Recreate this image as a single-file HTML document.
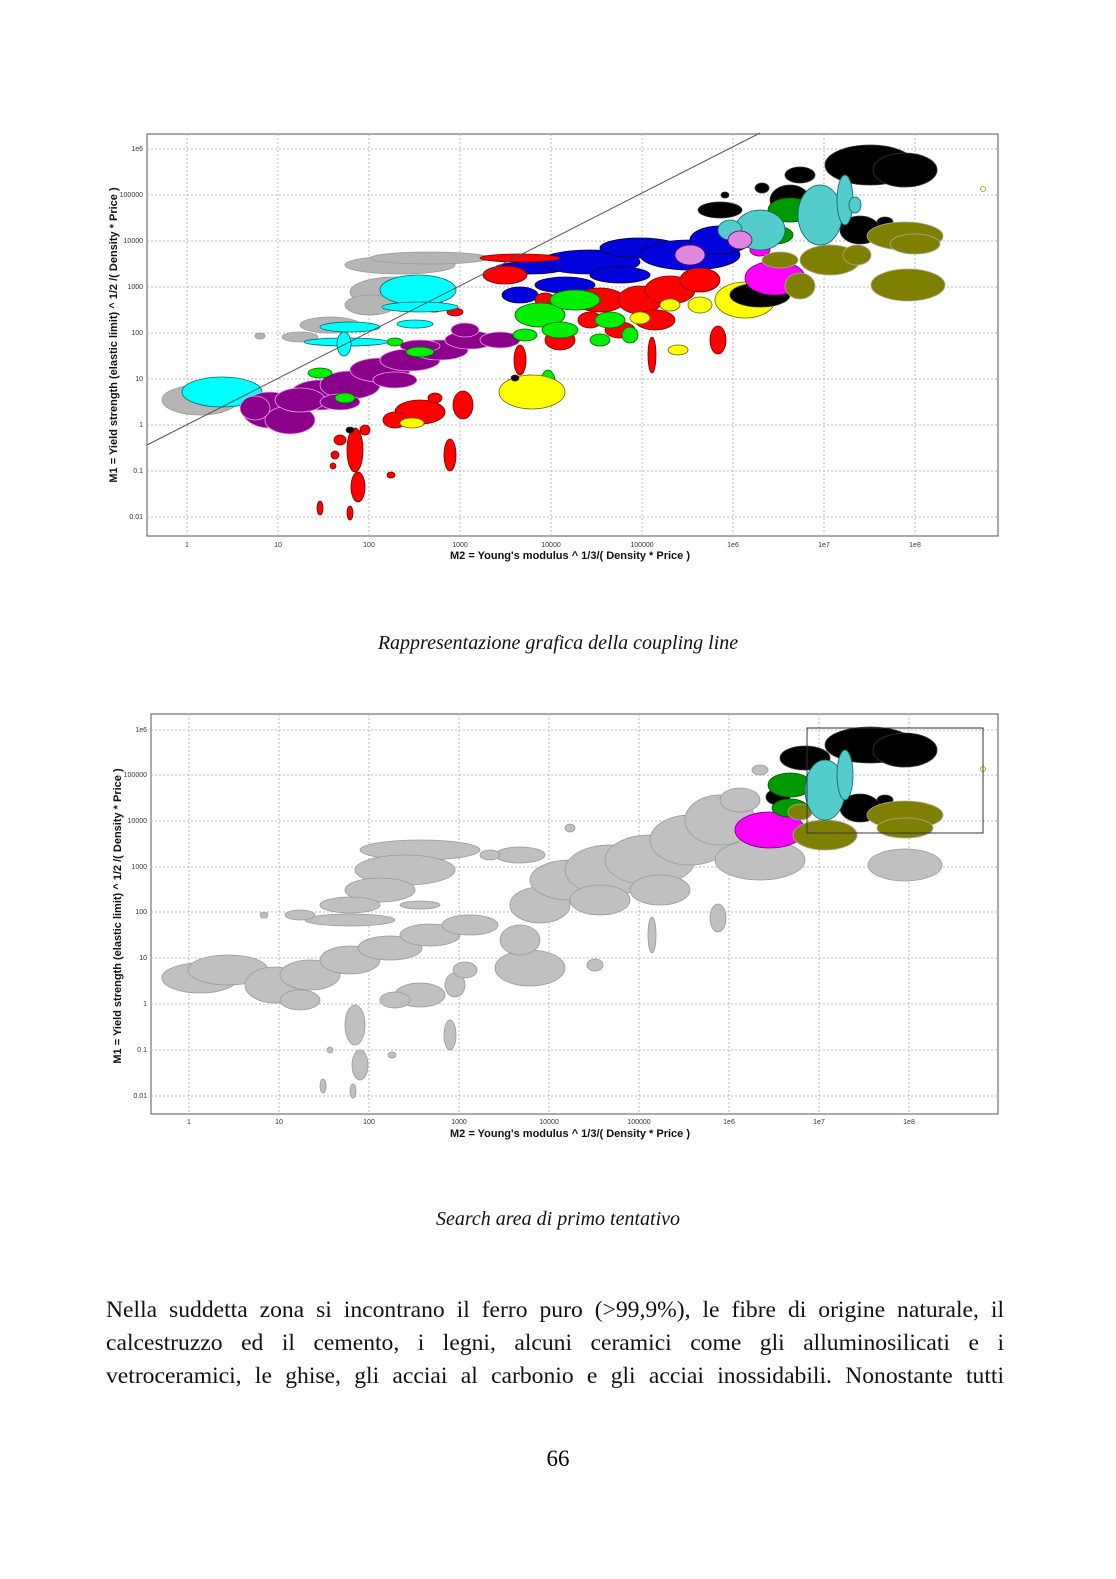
<!DOCTYPE html>
<html><head><meta charset="utf-8"><style>
body{margin:0;background:#fff;}
.page{position:relative;width:1116px;height:1579px;overflow:hidden;background:#fff;font-family:"Liberation Serif",serif;}
.cap{position:absolute;left:0;width:1116px;text-align:center;font-style:italic;font-size:20px;color:#111;}
.p{position:absolute;left:106px;width:898px;font-size:23.6px;line-height:33px;text-align:justify;text-align-last:justify;color:#111;white-space:nowrap;}
</style></head><body><div class="page">
<svg width="1116" height="1579" style="position:absolute;left:0;top:0" font-family="Liberation Sans, sans-serif">
<defs>
<clipPath id="c1"><rect x="147" y="134" width="851" height="402"/></clipPath>
<clipPath id="c2"><rect x="151" y="714" width="847" height="400"/></clipPath>
</defs>
<!-- CHART 1 -->
<rect x="147" y="134" width="851" height="402" fill="#fff" stroke="#555"/>
<g stroke="#bbb" stroke-dasharray="2,2" stroke-width="1">
<line x1="147" x2="998" y1="149" y2="149"/><line x1="147" x2="998" y1="195" y2="195"/><line x1="147" x2="998" y1="241" y2="241"/><line x1="147" x2="998" y1="287" y2="287"/><line x1="147" x2="998" y1="333" y2="333"/><line x1="147" x2="998" y1="379" y2="379"/><line x1="147" x2="998" y1="425" y2="425"/><line x1="147" x2="998" y1="471" y2="471"/><line x1="147" x2="998" y1="517" y2="517"/>
<line y1="134" y2="536" x1="187" x2="187"/><line y1="134" y2="536" x1="278" x2="278"/><line y1="134" y2="536" x1="369" x2="369"/><line y1="134" y2="536" x1="460" x2="460"/><line y1="134" y2="536" x1="551" x2="551"/><line y1="134" y2="536" x1="642" x2="642"/><line y1="134" y2="536" x1="733" x2="733"/><line y1="134" y2="536" x1="824" x2="824"/><line y1="134" y2="536" x1="915" x2="915"/>
</g>
<g font-size="7" fill="#333" text-anchor="end">
<text x="143" y="151">1e6</text><text x="143" y="197">100000</text><text x="143" y="243">10000</text><text x="143" y="289">1000</text><text x="143" y="335">100</text><text x="143" y="381">10</text><text x="143" y="427">1</text><text x="143" y="473">0.1</text><text x="143" y="519">0.01</text>
</g>
<g font-size="7" fill="#333" text-anchor="middle">
<text x="187" y="547">1</text><text x="278" y="547">10</text><text x="369" y="547">100</text><text x="460" y="547">1000</text><text x="551" y="547">10000</text><text x="642" y="547">100000</text><text x="733" y="547">1e6</text><text x="824" y="547">1e7</text><text x="915" y="547">1e8</text>
</g>
<text x="570" y="559" font-size="11" font-weight="bold" text-anchor="middle" fill="#111">M2 = Young's modulus ^ 1/3/( Density * Price )</text>
<text transform="translate(117,335) rotate(-90)" font-size="11" font-weight="bold" text-anchor="middle" fill="#111">M1 = Yield strength (elastic limit) ^ 1/2 /( Density * Price )</text>
<g clip-path="url(#c1)" stroke-width="0.8">
<g fill="#b5b5b5" stroke="#999">
<ellipse cx="200" cy="400" rx="38" ry="15"/><ellipse cx="400" cy="265" rx="55" ry="9"/><ellipse cx="395" cy="292" rx="45" ry="15"/><ellipse cx="370" cy="305" rx="25" ry="10"/><ellipse cx="330" cy="325" rx="30" ry="8"/><ellipse cx="300" cy="337" rx="18" ry="5"/><ellipse cx="260" cy="336" rx="5" ry="3"/><ellipse cx="430" cy="258" rx="60" ry="6"/>
</g>
<g fill="#0000dd" stroke="#003">
<ellipse cx="530" cy="268" rx="35" ry="6"/><ellipse cx="590" cy="262" rx="50" ry="12"/><ellipse cx="640" cy="248" rx="40" ry="10"/><ellipse cx="690" cy="255" rx="50" ry="15"/><ellipse cx="720" cy="240" rx="30" ry="14"/><ellipse cx="565" cy="285" rx="30" ry="8"/><ellipse cx="620" cy="275" rx="30" ry="8"/><ellipse cx="520" cy="295" rx="18" ry="8"/>
</g>
<g fill="#ff0000" stroke="#700">
<ellipse cx="520" cy="258" rx="40" ry="4"/><ellipse cx="505" cy="275" rx="22" ry="9"/><ellipse cx="600" cy="300" rx="25" ry="12"/><ellipse cx="640" cy="300" rx="22" ry="14"/><ellipse cx="670" cy="290" rx="25" ry="14"/><ellipse cx="700" cy="280" rx="20" ry="12"/><ellipse cx="655" cy="320" rx="20" ry="10"/><ellipse cx="620" cy="330" rx="15" ry="8"/><ellipse cx="560" cy="340" rx="15" ry="10"/><ellipse cx="530" cy="385" rx="12" ry="10"/><ellipse cx="463" cy="405" rx="10" ry="14"/><ellipse cx="420" cy="412" rx="25" ry="12"/><ellipse cx="395" cy="420" rx="12" ry="8"/><ellipse cx="450" cy="455" rx="6" ry="16"/><ellipse cx="358" cy="487" rx="7" ry="15"/><ellipse cx="355" cy="450" rx="8" ry="22"/><ellipse cx="320" cy="508" rx="3" ry="7"/><ellipse cx="350" cy="513" rx="3" ry="7"/><ellipse cx="718" cy="340" rx="8" ry="14"/><ellipse cx="652" cy="355" rx="4" ry="18"/><ellipse cx="520" cy="360" rx="6" ry="15"/><ellipse cx="435" cy="398" rx="7" ry="5"/><ellipse cx="333" cy="466" rx="3" ry="3"/><ellipse cx="391" cy="475" rx="4" ry="3"/><ellipse cx="434" cy="306" rx="10" ry="6"/><ellipse cx="455" cy="312" rx="8" ry="4"/><ellipse cx="340" cy="440" rx="6" ry="5"/><ellipse cx="365" cy="430" rx="5" ry="5"/><ellipse cx="335" cy="455" rx="4" ry="4"/><ellipse cx="545" cy="300" rx="10" ry="7"/><ellipse cx="590" cy="320" rx="12" ry="8"/>
</g>
<g fill="#00ffff" stroke="#066">
<ellipse cx="222" cy="392" rx="40" ry="15"/><ellipse cx="418" cy="290" rx="38" ry="15"/><ellipse cx="350" cy="327" rx="30" ry="5"/><ellipse cx="346" cy="342" rx="42" ry="4"/><ellipse cx="344" cy="344" rx="7" ry="12"/><ellipse cx="415" cy="324" rx="18" ry="4"/><ellipse cx="420" cy="307" rx="38" ry="5"/>
</g>
<g fill="#8b008b" stroke="#e8a0e8">
<ellipse cx="270" cy="410" rx="28" ry="18"/><ellipse cx="290" cy="420" rx="25" ry="14"/><ellipse cx="320" cy="395" rx="30" ry="15"/><ellipse cx="350" cy="385" rx="30" ry="14"/><ellipse cx="380" cy="370" rx="30" ry="12"/><ellipse cx="410" cy="360" rx="30" ry="11"/><ellipse cx="440" cy="350" rx="28" ry="10"/><ellipse cx="470" cy="340" rx="25" ry="9"/><ellipse cx="465" cy="330" rx="14" ry="7"/><ellipse cx="500" cy="340" rx="20" ry="8"/><ellipse cx="300" cy="400" rx="25" ry="12"/><ellipse cx="340" cy="402" rx="20" ry="8"/><ellipse cx="395" cy="380" rx="22" ry="8"/><ellipse cx="420" cy="346" rx="20" ry="6"/><ellipse cx="255" cy="408" rx="15" ry="12"/>
</g>
<g fill="#00ee00" stroke="#060">
<ellipse cx="345" cy="398" rx="10" ry="5"/><ellipse cx="320" cy="373" rx="12" ry="5"/><ellipse cx="395" cy="342" rx="8" ry="4"/><ellipse cx="420" cy="352" rx="14" ry="5"/><ellipse cx="540" cy="315" rx="25" ry="12"/><ellipse cx="575" cy="300" rx="25" ry="10"/><ellipse cx="610" cy="320" rx="15" ry="8"/><ellipse cx="548" cy="382" rx="7" ry="12"/><ellipse cx="560" cy="330" rx="18" ry="8"/><ellipse cx="525" cy="335" rx="12" ry="6"/><ellipse cx="600" cy="340" rx="10" ry="6"/><ellipse cx="630" cy="335" rx="8" ry="8"/>
</g>
<g fill="#ffff00" stroke="#660">
<ellipse cx="532" cy="392" rx="33" ry="17"/><ellipse cx="412" cy="423" rx="12" ry="5"/><ellipse cx="678" cy="350" rx="10" ry="5"/><ellipse cx="745" cy="300" rx="30" ry="18"/><ellipse cx="700" cy="305" rx="12" ry="8"/><ellipse cx="640" cy="318" rx="10" ry="6"/><ellipse cx="670" cy="305" rx="10" ry="6"/>
</g>
<g fill="#000" stroke="#333">
<ellipse cx="760" cy="295" rx="30" ry="12"/><ellipse cx="870" cy="165" rx="45" ry="20"/><ellipse cx="905" cy="170" rx="32" ry="17"/><ellipse cx="790" cy="200" rx="20" ry="15"/><ellipse cx="860" cy="230" rx="20" ry="14"/><ellipse cx="720" cy="210" rx="22" ry="8"/><ellipse cx="762" cy="188" rx="7" ry="5"/><ellipse cx="725" cy="195" rx="4" ry="3"/><ellipse cx="885" cy="222" rx="8" ry="5"/><ellipse cx="350" cy="430" rx="4" ry="3"/><ellipse cx="515" cy="378" rx="4" ry="3"/><ellipse cx="800" cy="175" rx="15" ry="8"/>
</g>
<g fill="#ff00ff" stroke="#606"><ellipse cx="775" cy="278" rx="30" ry="17"/><ellipse cx="760" cy="250" rx="10" ry="6"/></g>
<g fill="#808000" stroke="#aa9">
<ellipse cx="908" cy="285" rx="37" ry="16"/><ellipse cx="905" cy="236" rx="38" ry="14"/><ellipse cx="915" cy="244" rx="25" ry="10"/><ellipse cx="830" cy="260" rx="30" ry="15"/><ellipse cx="800" cy="286" rx="15" ry="13"/><ellipse cx="857" cy="255" rx="14" ry="10"/><ellipse cx="780" cy="260" rx="18" ry="8"/>
</g>
<g fill="#009900" stroke="#050"><ellipse cx="790" cy="210" rx="22" ry="12"/><ellipse cx="775" cy="235" rx="18" ry="9"/></g>
<g fill="#5cc" stroke="#066">
<ellipse cx="820" cy="215" rx="22" ry="30"/><ellipse cx="845" cy="200" rx="8" ry="25"/><ellipse cx="760" cy="230" rx="25" ry="20"/><ellipse cx="730" cy="230" rx="12" ry="10"/><ellipse cx="855" cy="205" rx="6" ry="8"/>
</g>
<g fill="#dd88dd" stroke="#606"><ellipse cx="690" cy="255" rx="15" ry="10"/><ellipse cx="740" cy="240" rx="12" ry="9"/></g>
<ellipse cx="983" cy="189" rx="2.5" ry="2.5" fill="none" stroke="#8a0"/>
</g>
<line x1="147" y1="445" x2="760" y2="133" stroke="#555" stroke-width="1"/>

<!-- CHART 2 -->
<rect x="151" y="714" width="847" height="400" fill="#fff" stroke="#555"/>
<g stroke="#bbb" stroke-dasharray="2,2" stroke-width="1">
<line x1="151" x2="998" y1="730" y2="730"/><line x1="151" x2="998" y1="775" y2="775"/><line x1="151" x2="998" y1="821" y2="821"/><line x1="151" x2="998" y1="867" y2="867"/><line x1="151" x2="998" y1="912" y2="912"/><line x1="151" x2="998" y1="958" y2="958"/><line x1="151" x2="998" y1="1004" y2="1004"/><line x1="151" x2="998" y1="1050" y2="1050"/><line x1="151" x2="998" y1="1096" y2="1096"/>
<line y1="714" y2="1114" x1="189" x2="189"/><line y1="714" y2="1114" x1="279" x2="279"/><line y1="714" y2="1114" x1="369" x2="369"/><line y1="714" y2="1114" x1="459" x2="459"/><line y1="714" y2="1114" x1="549" x2="549"/><line y1="714" y2="1114" x1="639" x2="639"/><line y1="714" y2="1114" x1="729" x2="729"/><line y1="714" y2="1114" x1="819" x2="819"/><line y1="714" y2="1114" x1="909" x2="909"/>
</g>
<g font-size="7" fill="#333" text-anchor="end">
<text x="147" y="732">1e6</text><text x="147" y="777">100000</text><text x="147" y="823">10000</text><text x="147" y="869">1000</text><text x="147" y="914">100</text><text x="147" y="960">10</text><text x="147" y="1006">1</text><text x="147" y="1052">0.1</text><text x="147" y="1098">0.01</text>
</g>
<g font-size="7" fill="#333" text-anchor="middle">
<text x="189" y="1124">1</text><text x="279" y="1124">10</text><text x="369" y="1124">100</text><text x="459" y="1124">1000</text><text x="549" y="1124">10000</text><text x="639" y="1124">100000</text><text x="729" y="1124">1e6</text><text x="819" y="1124">1e7</text><text x="909" y="1124">1e8</text>
</g>
<text x="570" y="1137" font-size="11" font-weight="bold" text-anchor="middle" fill="#111">M2 = Young's modulus ^ 1/3/( Density * Price )</text>
<text transform="translate(121,916) rotate(-90)" font-size="11" font-weight="bold" text-anchor="middle" fill="#111">M1 = Yield strength (elastic limit) ^ 1/2 /( Density * Price )</text>
<g clip-path="url(#c2)" fill="#c0c0c0" stroke="#999" stroke-width="0.8">
<ellipse cx="200" cy="978" rx="38" ry="15"/><ellipse cx="228" cy="970" rx="40" ry="15"/><ellipse cx="275" cy="985" rx="30" ry="18"/><ellipse cx="310" cy="975" rx="30" ry="15"/><ellipse cx="350" cy="960" rx="30" ry="14"/><ellipse cx="390" cy="948" rx="32" ry="12"/><ellipse cx="430" cy="935" rx="30" ry="11"/><ellipse cx="470" cy="925" rx="28" ry="10"/><ellipse cx="300" cy="1000" rx="20" ry="10"/>
<ellipse cx="420" cy="850" rx="60" ry="10"/><ellipse cx="405" cy="870" rx="50" ry="15"/><ellipse cx="380" cy="890" rx="35" ry="12"/><ellipse cx="350" cy="905" rx="30" ry="8"/><ellipse cx="350" cy="920" rx="45" ry="6"/><ellipse cx="300" cy="915" rx="15" ry="5"/><ellipse cx="264" cy="915" rx="4" ry="3"/><ellipse cx="420" cy="905" rx="20" ry="4"/>
<ellipse cx="530" cy="968" rx="35" ry="18"/><ellipse cx="540" cy="905" rx="30" ry="18"/><ellipse cx="570" cy="880" rx="40" ry="20"/><ellipse cx="610" cy="870" rx="45" ry="25"/><ellipse cx="650" cy="860" rx="45" ry="25"/><ellipse cx="690" cy="840" rx="40" ry="25"/><ellipse cx="720" cy="820" rx="35" ry="25"/><ellipse cx="760" cy="860" rx="45" ry="20"/><ellipse cx="740" cy="800" rx="20" ry="12"/><ellipse cx="520" cy="855" rx="25" ry="8"/><ellipse cx="520" cy="940" rx="20" ry="15"/><ellipse cx="600" cy="900" rx="30" ry="15"/><ellipse cx="660" cy="890" rx="30" ry="15"/>
<ellipse cx="420" cy="995" rx="25" ry="12"/><ellipse cx="395" cy="1000" rx="15" ry="8"/><ellipse cx="455" cy="985" rx="10" ry="12"/><ellipse cx="450" cy="1035" rx="6" ry="15"/><ellipse cx="360" cy="1065" rx="8" ry="15"/><ellipse cx="355" cy="1025" rx="10" ry="20"/><ellipse cx="323" cy="1086" rx="3" ry="7"/><ellipse cx="353" cy="1091" rx="3" ry="7"/><ellipse cx="718" cy="918" rx="8" ry="14"/><ellipse cx="652" cy="935" rx="4" ry="18"/><ellipse cx="595" cy="965" rx="8" ry="6"/><ellipse cx="905" cy="865" rx="37" ry="16"/><ellipse cx="330" cy="1050" rx="3" ry="3"/><ellipse cx="392" cy="1055" rx="4" ry="3"/><ellipse cx="465" cy="970" rx="12" ry="8"/><ellipse cx="490" cy="855" rx="10" ry="5"/><ellipse cx="570" cy="828" rx="5" ry="4"/><ellipse cx="760" cy="770" rx="8" ry="5"/>
</g>
<g clip-path="url(#c2)" stroke-width="0.8">
<g fill="#ff00ff" stroke="#606"><ellipse cx="770" cy="830" rx="35" ry="18"/></g>
<g fill="#000" stroke="#333"><ellipse cx="870" cy="745" rx="45" ry="18"/><ellipse cx="905" cy="750" rx="32" ry="17"/><ellipse cx="805" cy="758" rx="25" ry="12"/><ellipse cx="778" cy="797" rx="12" ry="8"/><ellipse cx="860" cy="808" rx="20" ry="14"/><ellipse cx="885" cy="800" rx="8" ry="5"/></g>
<g fill="#009900" stroke="#050"><ellipse cx="790" cy="785" rx="22" ry="12"/><ellipse cx="790" cy="808" rx="18" ry="9"/></g>
<g fill="#808000" stroke="#aa9"><ellipse cx="905" cy="815" rx="38" ry="14"/><ellipse cx="905" cy="828" rx="28" ry="10"/><ellipse cx="825" cy="835" rx="32" ry="15"/><ellipse cx="800" cy="812" rx="12" ry="8"/></g>
<g fill="#5cc" stroke="#066"><ellipse cx="825" cy="790" rx="20" ry="30"/><ellipse cx="845" cy="775" rx="8" ry="25"/></g>
<ellipse cx="983" cy="769" rx="2.5" ry="2.5" fill="none" stroke="#8a0"/>
</g>
<rect x="807" y="728" width="176" height="105" fill="none" stroke="#333" stroke-width="1"/>
</svg>
<div class="cap" style="top:632px">Rappresentazione grafica della coupling line</div>
<div class="cap" style="top:1208px">Search area di primo tentativo</div>
<div class="p" style="top:1294px">Nella suddetta zona si incontrano il ferro puro (&gt;99,9%), le fibre di origine naturale, il</div>
<div class="p" style="top:1327px">calcestruzzo ed il cemento, i legni, alcuni ceramici come gli alluminosilicati e i</div>
<div class="p" style="top:1360px">vetroceramici, le ghise, gli acciai al carbonio e gli acciai inossidabili. Nonostante tutti</div>
<div style="position:absolute;top:1446px;left:0;width:1116px;text-align:center;font-size:23px;">66</div>
</div></body></html>
